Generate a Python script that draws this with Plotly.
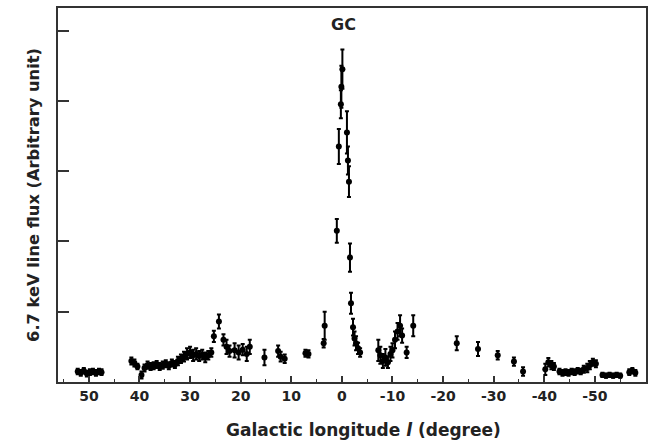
import plotly.graph_objects as go

# Galactic longitude (deg), flux (arb.), flux error, longitude half-width
lon = [52.2, 51.6, 51.0, 50.4, 49.8, 49.2, 48.6, 48.0, 47.5,
       41.6, 41.0, 40.4, 39.6,
       39.0, 38.4, 37.8, 37.2, 36.6, 36.0, 35.4, 34.8, 34.2, 33.6, 33.0, 32.4,
       31.8, 31.2, 30.6, 30.0, 29.4, 28.8, 28.2, 27.6, 27.0, 26.4, 25.8,
       25.3, 24.3,
       23.4, 22.8, 22.2, 21.2, 20.4, 19.6, 18.8, 18.2,
       15.3, 12.6, 12.1, 11.3, 7.2, 6.6, 3.4, 3.6,
       1.0, 0.6, 0.2, 0.1, -0.1, -1.0, -1.2, -1.4, -1.6, -1.8,
       -2.2, -2.5, -2.8, -3.2, -3.6,
       -7.2, -7.6, -8.1, -8.6, -9.1, -9.6, -10.0, -10.5, -11.0, -11.5, -11.9,
       -12.8, -14.1,
       -22.7, -26.9, -30.8, -34.0, -35.8,
       -40.2, -40.8, -41.4, -41.9,
       -43.0, -43.6, -44.2, -44.8, -45.4, -46.0, -46.6, -47.2, -47.8,
       -48.5, -49.0, -49.6, -50.2,
       -51.5, -52.2, -52.9, -53.6, -54.3, -55.0,
       -56.8, -57.4, -58.0]

flux = [0.15, 0.13, 0.16, 0.12, 0.14, 0.15, 0.13, 0.15, 0.14,
        0.30, 0.27, 0.22, 0.10,
        0.20, 0.24, 0.22, 0.23, 0.25, 0.22, 0.24, 0.26, 0.23, 0.27, 0.25, 0.30,
        0.33, 0.36, 0.40, 0.42, 0.38, 0.40, 0.37, 0.39, 0.35, 0.38, 0.42,
        0.65, 0.86,
        0.60, 0.50, 0.44, 0.45, 0.42, 0.46, 0.40, 0.50,
        0.35, 0.44, 0.36, 0.33, 0.41, 0.40, 0.80, 0.55,
        2.15, 3.35, 3.95, 4.20, 4.45, 3.55, 3.15, 2.85, 1.77, 1.12,
        0.78, 0.62, 0.55, 0.48, 0.42,
        0.45, 0.38, 0.30, 0.35, 0.28, 0.40, 0.45, 0.60, 0.72, 0.80, 0.66,
        0.42, 0.80,
        0.55, 0.47, 0.38, 0.29, 0.15,
        0.18, 0.28, 0.24, 0.22,
        0.15, 0.13, 0.14, 0.13, 0.15, 0.14, 0.16, 0.15, 0.18,
        0.20, 0.24, 0.28, 0.26,
        0.10, 0.09, 0.10, 0.09, 0.10, 0.09,
        0.14, 0.16, 0.13]

flux_err = [0.04, 0.04, 0.04, 0.04, 0.04, 0.04, 0.04, 0.04, 0.04,
            0.05, 0.05, 0.04, 0.05,
            0.05, 0.05, 0.05, 0.05, 0.05, 0.05, 0.05, 0.05, 0.05, 0.05, 0.05, 0.06,
            0.06, 0.07, 0.08, 0.08, 0.08, 0.08, 0.07, 0.07, 0.07, 0.06, 0.06,
            0.08, 0.10,
            0.08, 0.10, 0.08, 0.10, 0.10, 0.08, 0.10, 0.10,
            0.11, 0.08, 0.07, 0.06, 0.05, 0.05, 0.20, 0.06,
            0.17, 0.25, 0.20, 0.30, 0.28, 0.30, 0.20, 0.22, 0.20, 0.15,
            0.12, 0.10, 0.10, 0.08, 0.06,
            0.15, 0.12, 0.10, 0.12, 0.08, 0.10, 0.10, 0.12, 0.12, 0.15, 0.10,
            0.08, 0.15,
            0.10, 0.10, 0.06, 0.06, 0.06,
            0.08, 0.06, 0.06, 0.05,
            0.04, 0.04, 0.04, 0.04, 0.04, 0.04, 0.04, 0.04, 0.05,
            0.06, 0.06, 0.05, 0.05,
            0.03, 0.03, 0.03, 0.03, 0.03, 0.03,
            0.04, 0.04, 0.04]

lon_err = [0.3] * len(lon)

x_ticks = [50, 40, 30, 20, 10, 0, -10, -20, -30, -40, -50]
x_labels = ["50", "40", "30", "20", "10", "0", "-10", "-20", "-30", "-40", "-50"]
y_ticks = [1, 2, 3, 4, 5]

FONT = "DejaVu Sans"

fig = go.Figure()
fig.add_trace(go.Scatter(
    x=lon, y=flux, mode="markers",
    marker=dict(color="black", size=6),
    error_y=dict(type="data", array=flux_err, color="black", thickness=2, width=2),
    error_x=dict(type="data", array=lon_err, color="black", thickness=1.5, width=0),
    showlegend=False,
))

fig.add_annotation(x=0, y=1.0, xref="x", yref="paper", yshift=-5, xshift=2,
                   text="<b>GC</b>", showarrow=False,
                   font=dict(family=FONT, size=16, color="#222"))

fig.add_annotation(x=0.5, y=0, xref="paper", yref="paper", yanchor="middle",
                   yshift=-48, xshift=11,
                   text="<b>Galactic longitude <i>l</i> (degree)</b>", showarrow=False,
                   font=dict(family=FONT, size=17, color="#222"))

fig.update_layout(
    width=659, height=444,
    margin=dict(l=58, r=13, t=6, b=62),
    paper_bgcolor="white", plot_bgcolor="white",
    font=dict(family=FONT, color="#222"),
)
fig.update_xaxes(
    range=[56.1, -60.1], showgrid=False, zeroline=False,
    showline=True, mirror=True, linecolor="#333", linewidth=2,
    ticks="inside", ticklen=6, tickwidth=1.5, tickcolor="#333",
    tickvals=x_ticks, ticktext=x_labels,
    tickfont=dict(family=FONT, size=14, color="#222", weight="bold"),
    minor=dict(ticks="inside", ticklen=3, tickwidth=1.2, tickcolor="#333", dtick=5, tick0=0, showgrid=False),
)
fig.update_yaxes(
    range=[0, 5.32], showgrid=False, zeroline=False,
    showline=True, mirror=True, linecolor="#333", linewidth=2,
    ticks="inside", ticklen=11, tickwidth=1.5, tickcolor="#333",
    tickvals=y_ticks, showticklabels=False,
    title=dict(text="<b>6.7 keV line flux (Arbitrary unit)</b>",
               font=dict(family=FONT, size=16.3, color="#222"), standoff=12),
)

fig.write_html("out.html", config={"displayModeBar": False},
               post_script="document.body.style.margin='0';")
